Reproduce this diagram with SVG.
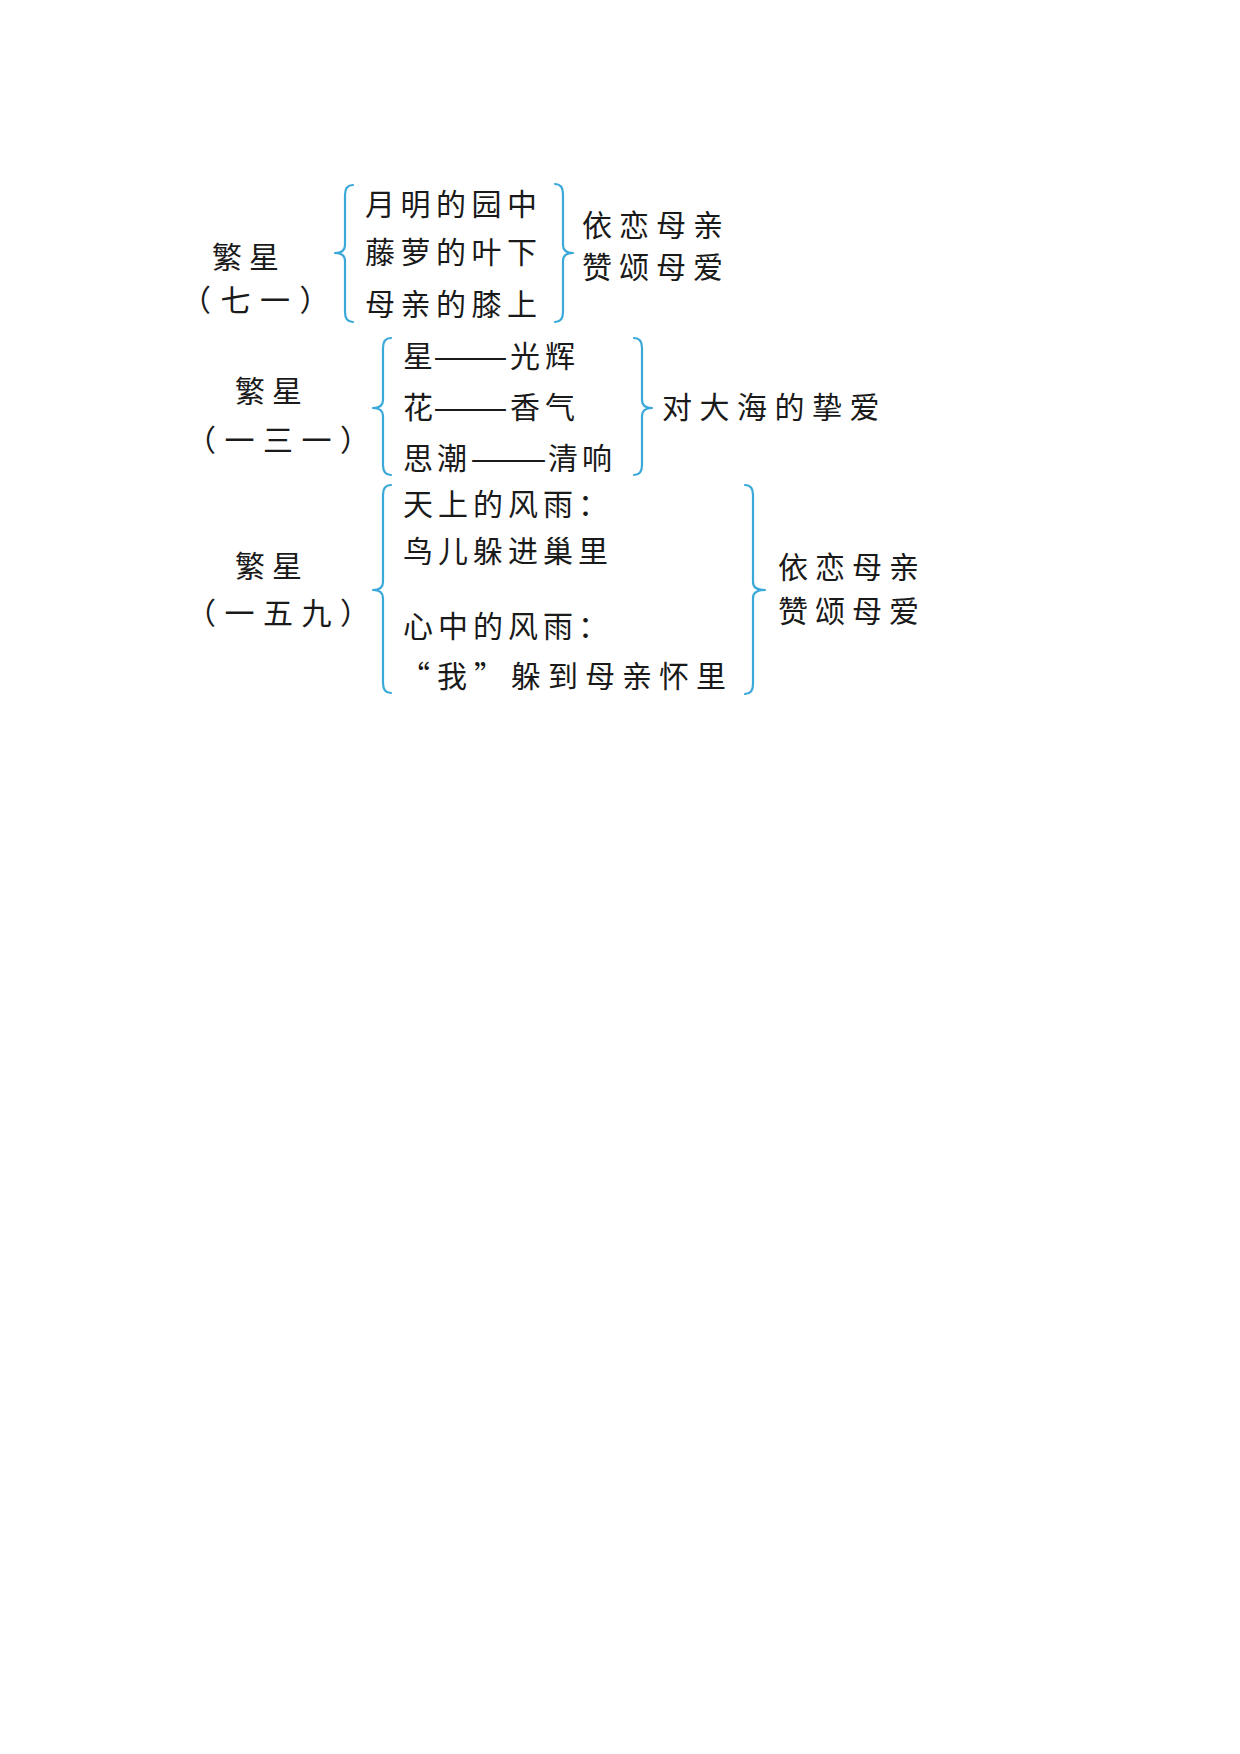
<svg xmlns="http://www.w3.org/2000/svg" width="1240" height="1754" viewBox="0 0 1240 1754">
<style>
text{font-family:"Noto Sans CJK SC","Noto Sans CJK TC",sans-serif;font-size:30px;fill:#1a1a1a;dominant-baseline:central;}
.b{fill:none;stroke:#3aa8d8;stroke-width:2.2;stroke-linecap:round;stroke-linejoin:round;}
</style>
<rect width="1240" height="1754" fill="#fff"/>
<g id="connectors">
<path class="b" d="M353,185 Q345,185 345,195 L345,245 Q345,253 335,253 Q345,253 345,261 L345,312 Q345,322 353,322"/>
<path class="b" d="M555,184 Q563,184 563,194 L563,245 Q563,253 573,253 Q563,253 563,261 L563,312 Q563,322 555,322"/>
<path class="b" d="M391,338 Q383,338 383,348 L383,400 Q383,408 373,408 Q383,408 383,416 L383,465 Q383,475 391,475"/>
<path class="b" d="M634,338 Q642,338 642,348 L642,400 Q642,408 652,408 Q642,408 642,416 L642,465 Q642,475 634,475"/>
<path class="b" d="M391,485 Q383,485 383,495 L383,582 Q383,590 373,590 Q383,590 383,598 L383,683 Q383,693 391,693"/>
<path class="b" d="M745,485 Q753,485 753,495 L753,582 Q753,590 765,590 Q753,590 753,598 L753,684 Q753,694 745,694"/>
</g>
<g id="poem71">
<text x="212" y="255" letter-spacing="7">繁星</text>
<text x="181" y="298" letter-spacing="9.5">（七一）</text>
</g>
<g id="items71">
<text x="365" y="202" letter-spacing="5.5">月明的园中</text>
<text x="365" y="250" letter-spacing="5.5">藤萝的叶下</text>
<text x="365" y="302" letter-spacing="5.5">母亲的膝上</text>
</g>
<g id="result71">
<text x="582" y="223" letter-spacing="7">依恋母亲</text>
<text x="582" y="265" letter-spacing="7">赞颂母爱</text>
</g>
<g id="poem131">
<text x="235" y="389" letter-spacing="7">繁星</text>
<text x="186" y="438" letter-spacing="8.5">（一三一）</text>
</g>
<g id="items131">
<text x="403" y="354">星</text>
<text x="433" y="354" textLength="75" lengthAdjust="spacingAndGlyphs">——</text>
<text x="510" y="354" letter-spacing="5">光辉</text>
<text x="403" y="405">花</text>
<text x="433" y="405" textLength="75" lengthAdjust="spacingAndGlyphs">——</text>
<text x="510" y="405" letter-spacing="5">香气</text>
<text x="403" y="456" letter-spacing="4">思潮</text>
<text x="470" y="456" textLength="77" lengthAdjust="spacingAndGlyphs">——</text>
<text x="548" y="456" letter-spacing="4">清响</text>
</g>
<g id="result131">
<text x="662" y="405" letter-spacing="7.5">对大海的挚爱</text>
</g>
<g id="poem159">
<text x="235" y="564" letter-spacing="7">繁星</text>
<text x="186" y="611" letter-spacing="8.5">（一五九）</text>
</g>
<g id="items159">
<text x="403" y="502" letter-spacing="5">天上的风雨：</text>
<text x="403" y="549" letter-spacing="5">鸟儿躲进巢里</text>
<text x="403" y="624" letter-spacing="5">心中的风雨：</text>
<text x="400" y="674" letter-spacing="7">“我”躲到母亲怀里</text>
</g>
<g id="result159">
<text x="778" y="565" letter-spacing="7">依恋母亲</text>
<text x="778" y="609" letter-spacing="7">赞颂母爱</text>
</g>
</svg>
